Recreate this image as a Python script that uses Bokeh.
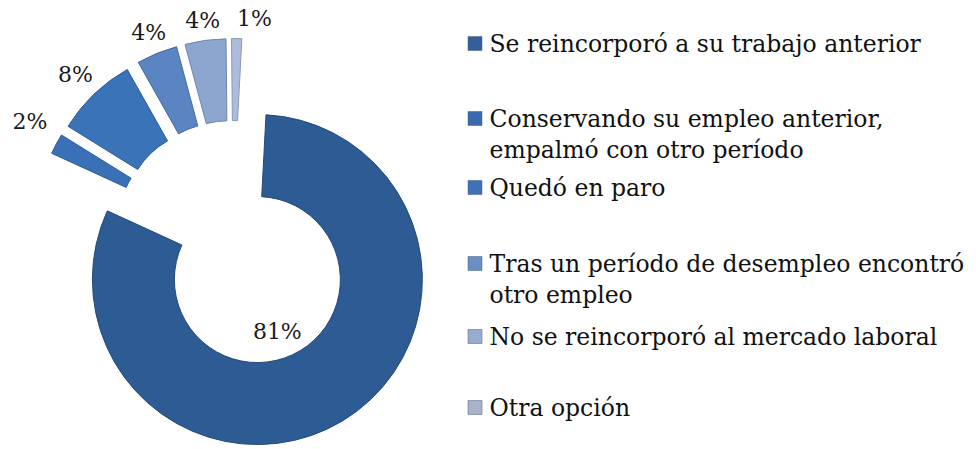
import math
from bokeh.plotting import figure
from bokeh.models import Range1d, ColumnDataSource
from bokeh.core.properties import value
from bokeh.embed import file_html
from bokeh.resources import INLINE

# ---- data ----
categories = [
    "Se reincorporó a su trabajo  anterior",
    "Conservando su empleo anterior,\nempalmó con otro período",
    "Quedó en paro",
    "Tras un período de desempleo encontró\notro empleo",
    "No se reincorporó al mercado laboral",
    "Otra opción",
]
values = [81, 2, 8, 4, 4, 1]
pct_labels = ["81%", "2%", "8%", "4%", "4%", "1%"]

# ---- styles ----
slice_colors = ["#2D5B94", "#3A71B6", "#3A73B8", "#5A84C2", "#8DA6D0", "#AEBCDA"]
edge_colors = ["#234a7a", "#2d5c96", "#2d5c96", "#47699c", "#6f86ad", "#8a99b8"]
marker_colors = ["#33609A", "#3A6AAE", "#3D72B8", "#6A8FC5", "#98ACD0", "#A9B2C8"]
explode = [48, 35, 35, 35, 35, 35]
label_r = [103, 234, 227, 222, 220, 221]
label_da = [5.4, 1.8, 0, 0, 0, 4.5]

W, H = 976, 449
p = figure(width=W, height=H, output_backend="svg", toolbar_location=None,
           x_range=Range1d(0, W), y_range=Range1d(0, H), min_border=0)
p.axis.visible = False
p.grid.visible = False
p.outline_line_color = None
p.background_fill_color = "white"
p.border_fill_color = "white"

def fy(y_top):
    return H - y_top

cx, cy = 232, fy(238)
R_out, R_in = 165, 83
rot = 3.0  # first slice angle (deg, clockwise from top)

total = float(sum(values))
xs, ys, sa, ea, lx, ly = [], [], [], [], [], []
acc = rot
for i, v in enumerate(values):
    a1 = acc
    a2 = acc + 360.0 * v / total
    acc = a2
    mid = math.radians((a1 + a2) / 2)
    ux, uy = math.sin(mid), math.cos(mid)
    xs.append(cx + explode[i] * ux)
    ys.append(cy + explode[i] * uy)
    sa.append(math.radians(90 - a2))
    ea.append(math.radians(90 - a1))
    lm = mid + math.radians(label_da[i])
    lx.append(cx + label_r[i] * math.sin(lm))
    ly.append(cy + label_r[i] * math.cos(lm))

src = ColumnDataSource(dict(x=xs, y=ys, sa=sa, ea=ea, fill=slice_colors,
                            edge=edge_colors, lab=pct_labels, lx=lx, ly=ly))
p.annular_wedge(x="x", y="y", inner_radius=R_in, outer_radius=R_out,
                start_angle="sa", end_angle="ea", fill_color="fill",
                line_color="edge", line_width=1, source=src)
p.text(x="lx", y="ly", text="lab", source=src, text_align="center",
       text_baseline="middle", text_font=value("DejaVu Serif"),
       text_font_size="22px", text_color="#1a1a1a")

# ---- legend (drawn manually) ----
leg_y = [43, 118, 187, 263, 336, 407]
line_gap = 31
mx, tx = 474.5, 489
lsx, lsy, lc = [], [], []
tx_l, ty_l, tt = [], [], []
for i, cat in enumerate(categories):
    lsx.append(mx)
    lsy.append(fy(leg_y[i]))
    lc.append(marker_colors[i])
    for j, line in enumerate(cat.split("\n")):
        tx_l.append(tx)
        ty_l.append(fy(leg_y[i] + j * line_gap))
        tt.append(line)
p.rect(x=lsx, y=lsy, width=14, height=14, fill_color=lc, line_color="#4a5f80",
       line_width=0.5)
p.text(x=tx_l, y=ty_l, text=tt, text_align="left", text_baseline="middle",
       text_font=value("DejaVu Serif"), text_font_size="23.5px", text_color="#111111")

open("out.html", "w").write(file_html(p, INLINE))
